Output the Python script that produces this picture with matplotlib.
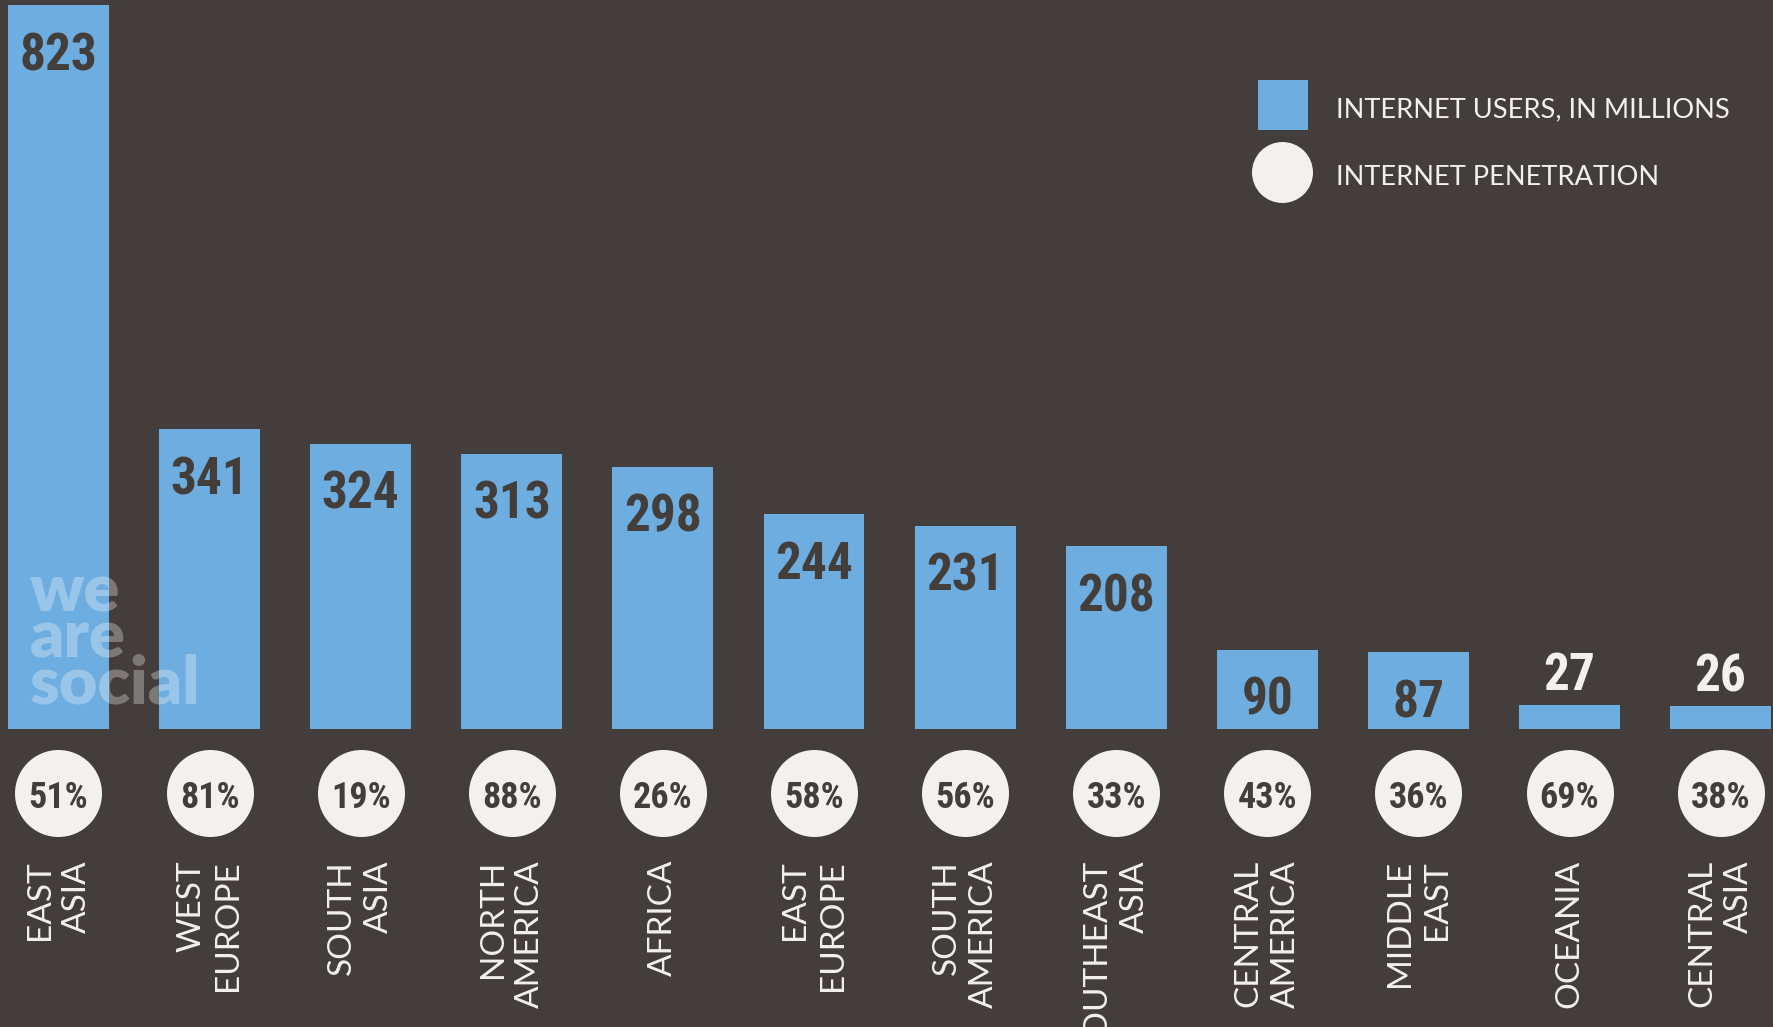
import matplotlib
matplotlib.use("Agg")
import matplotlib.pyplot as plt
from matplotlib.patches import Rectangle, Ellipse
from matplotlib.transforms import blended_transform_factory
import numpy as np

# ---- data -------------------------------------------------------------
regions = ["EAST\nASIA", "WEST\nEUROPE", "SOUTH\nASIA", "NORTH\nAMERICA",
           "AFRICA", "EAST\nEUROPE", "SOUTH\nAMERICA", "SOUTHEAST\nASIA",
           "CENTRAL\nAMERICA", "MIDDLE\nEAST", "OCEANIA", "CENTRAL\nASIA"]
users_millions = [823, 341, 324, 313, 298, 244, 231, 208, 90, 87, 27, 26]
penetration_pct = [51, 81, 19, 88, 26, 58, 56, 33, 43, 36, 69, 38]
legend_labels = ["INTERNET USERS, IN MILLIONS", "INTERNET PENETRATION"]

# ---- style ------------------------------------------------------------
BG = "#433e3b"
BLUE = "#6dade0"
LIGHT = "#f2f1ef"
DARK = "#443e3b"
NUM_FONT = ["Liberation Sans Narrow", "Roboto Condensed", "DejaVu Sans"]
TXT_FONT = ["Lato", "DejaVu Sans"]

W, H, DPI = 1773, 1027, 100
PT = 72.0 / DPI  # points per pixel

fig = plt.figure(figsize=(W / DPI, H / DPI), dpi=DPI, facecolor=BG)
ax = fig.add_axes([0, 0, 1, 1])
ax.set_facecolor(BG)
ax.axis("off")

# layout in pixels
step_px, first_px = 151.1, 58.5
base_px, px_per_unit = 729.0, 0.8797
ax.set_xlim(-first_px / step_px, (W - first_px) / step_px)
ax.set_ylim(-(H - base_px) / px_per_unit, base_px / px_per_unit)

x = np.arange(len(regions))
ax.bar(x, users_millions, width=0.668, color=BLUE, linewidth=0, zorder=2)

# value labels: inside the bar, or above it when the bar is short
for xi, v in zip(x, users_millions):
    inside = v >= 60
    ax.annotate(f"{v}", (xi, v),
                xytext=(0, (-65 if inside else 15) * PT), textcoords="offset points",
                ha="center", va="baseline", fontsize=37, fontweight="bold",
                family=NUM_FONT, fontstretch="condensed",
                color=DARK if inside else LIGHT, zorder=4)

# penetration discs under each bar
row = blended_transform_factory(ax.transData, fig.transFigure)
circle_y = 1 - 793 / H
ax.scatter(x, np.full(len(x), circle_y), s=(87 * PT) ** 2, color=LIGHT,
           linewidths=0, transform=row, zorder=3, clip_on=False)
for xi, p in zip(x, penetration_pct):
    ax.text(xi, 1 - 808 / H, f"{p}%", transform=row, ha="center", va="baseline",
            fontsize=26, fontweight="bold", family=NUM_FONT, fontstretch="condensed",
            color=DARK, zorder=4)

# region names, rotated
for xi, name in zip(x, regions):
    ax.text(xi, 1 - 860 / H, name, transform=row, rotation=90, ha="center", va="top",
            multialignment="right", fontsize=24, family=TXT_FONT, color=LIGHT,
            linespacing=1.3, zorder=4)

# watermark (anchored on the baseline of its last line)
fig.text(30 / W, 1 - 703 / H, "we\nare\nsocial", ha="left", va="baseline",
         fontsize=48, fontweight="heavy", family=TXT_FONT, color="white",
         alpha=0.3, linespacing=0.7, zorder=5)

# legend
fig.add_artist(Rectangle((1258 / W, 1 - 130 / H), 50 / W, 50 / H,
                         transform=fig.transFigure, color=BLUE, linewidth=0))
fig.add_artist(Ellipse((1282.5 / W, 1 - 172.5 / H), 61 / W, 61 / H,
                       transform=fig.transFigure, color=LIGHT, linewidth=0))
fig.text(1336 / W, 1 - 117 / H, legend_labels[0], ha="left", va="baseline",
         fontsize=19.6, family=TXT_FONT, color=LIGHT)
fig.text(1336 / W, 1 - 185 / H, legend_labels[1], ha="left", va="baseline",
         fontsize=19.6, family=TXT_FONT, color=LIGHT)

fig.savefig("out.png", dpi=DPI, facecolor=BG)
